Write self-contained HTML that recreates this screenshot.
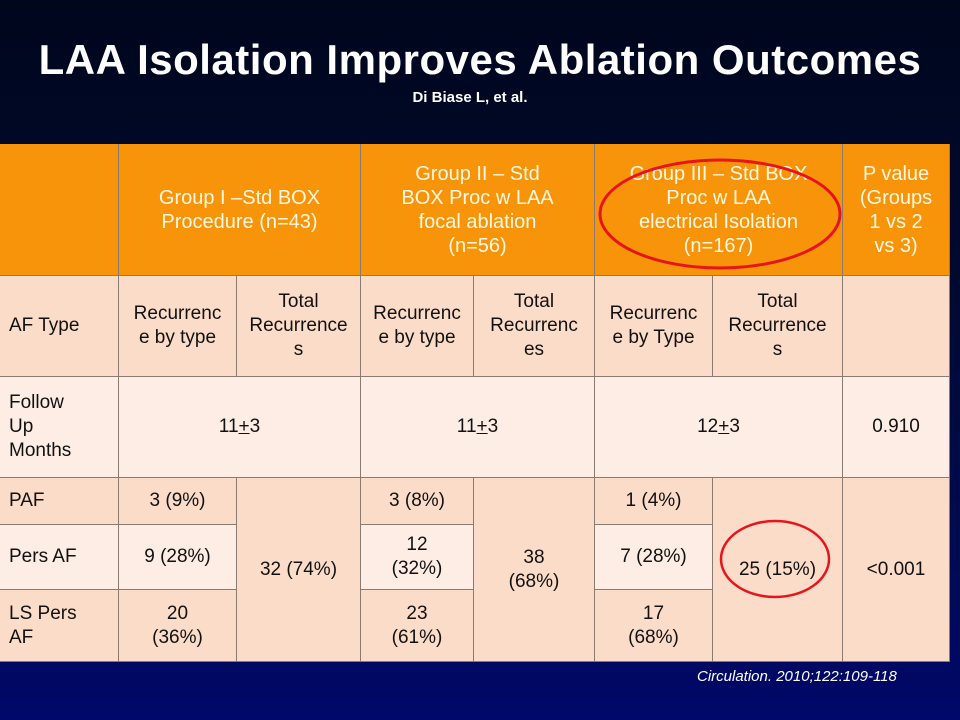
<!DOCTYPE html>
<html><head><meta charset="utf-8"><style>
body{margin:0;width:960px;height:720px;overflow:hidden;background:linear-gradient(#00061c 0%,#000a30 40%,#000a55 80%,#00086a 100%);font-family:"Liberation Sans",sans-serif;position:relative}
.t{position:absolute;left:0;width:960px;text-align:center;color:#fff}
.c{position:absolute;box-sizing:border-box;display:flex;align-items:center;justify-content:center;text-align:center;font-size:19px;color:#111;border-right:1px solid #8a7a70;border-bottom:1px solid #8a7a70;line-height:24px}
.h{background:#f7940a;color:#fff8e0;font-size:20px}
.a{background:#fbdcc8}.b{background:#fdede4}
.l{justify-content:flex-start;text-align:left;padding-left:9px}
</style></head><body>
<div class="t" style="top:36px;font-size:42px;font-weight:bold;letter-spacing:0.5px">LAA Isolation Improves Ablation Outcomes</div>
<div class="t" style="top:89px;font-size:15px;font-weight:bold;left:0;width:940px">Di Biase L, et al.</div>
<div class="c h" style="left:0;top:144px;width:119px;height:132px"></div>
<div class="c h" style="left:119px;top:144px;width:242px;height:132px">Group I –Std BOX<br>Procedure (n=43)</div>
<div class="c h" style="left:361px;top:144px;width:234px;height:132px">Group II – Std<br>BOX Proc w LAA<br>focal ablation<br>(n=56)</div>
<div class="c h" style="left:595px;top:144px;width:248px;height:132px">Group III – Std BOX<br>Proc w LAA<br>electrical Isolation<br>(n=167)</div>
<div class="c h" style="left:843px;top:144px;width:107px;height:132px">P value<br>(Groups<br>1 vs 2<br>vs 3)</div>

<div class="c a l" style="left:0;top:276px;width:119px;height:101px">AF Type</div>
<div class="c a" style="left:119px;top:276px;width:118px;height:101px">Recurrenc<br>e by type</div>
<div class="c a" style="left:237px;top:276px;width:124px;height:101px">Total<br>Recurrence<br>s</div>
<div class="c a" style="left:361px;top:276px;width:113px;height:101px">Recurrenc<br>e by type</div>
<div class="c a" style="left:474px;top:276px;width:121px;height:101px">Total<br>Recurrenc<br>es</div>
<div class="c a" style="left:595px;top:276px;width:118px;height:101px">Recurrenc<br>e by Type</div>
<div class="c a" style="left:713px;top:276px;width:130px;height:101px">Total<br>Recurrence<br>s</div>
<div class="c a" style="left:843px;top:276px;width:107px;height:101px"></div>

<div class="c b l" style="left:0;top:377px;width:119px;height:101px">Follow<br>Up<br>Months</div>
<div class="c b" style="left:119px;top:377px;width:242px;height:101px">11<u>+</u>3</div>
<div class="c b" style="left:361px;top:377px;width:234px;height:101px">11<u>+</u>3</div>
<div class="c b" style="left:595px;top:377px;width:248px;height:101px">12<u>+</u>3</div>
<div class="c b" style="left:843px;top:377px;width:107px;height:101px">0.910</div>

<div class="c a l" style="left:0;top:478px;width:119px;height:47px">PAF</div>
<div class="c a" style="left:119px;top:478px;width:118px;height:47px">3 (9%)</div>
<div class="c a" style="left:237px;top:478px;width:124px;height:184px">32 (74%)</div>
<div class="c a" style="left:361px;top:478px;width:113px;height:47px">3 (8%)</div>
<div class="c a" style="left:474px;top:478px;width:121px;height:184px">38<br>(68%)</div>
<div class="c a" style="left:595px;top:478px;width:118px;height:47px">1 (4%)</div>
<div class="c a" style="left:713px;top:478px;width:130px;height:184px">25 (15%)</div>
<div class="c a" style="left:843px;top:478px;width:107px;height:184px">&lt;0.001</div>

<div class="c b l" style="left:0;top:525px;width:119px;height:65px">Pers AF</div>
<div class="c b" style="left:119px;top:525px;width:118px;height:65px">9 (28%)</div>
<div class="c b" style="left:361px;top:525px;width:113px;height:65px">12<br>(32%)</div>
<div class="c b" style="left:595px;top:525px;width:118px;height:65px">7 (28%)</div>

<div class="c a l" style="left:0;top:590px;width:119px;height:72px">LS Pers<br>AF</div>
<div class="c a" style="left:119px;top:590px;width:118px;height:72px">20<br>(36%)</div>
<div class="c a" style="left:361px;top:590px;width:113px;height:72px">23<br>(61%)</div>
<div class="c a" style="left:595px;top:590px;width:118px;height:72px">17<br>(68%)</div>

<svg style="position:absolute;left:0;top:0" width="960" height="720">
<ellipse cx="720" cy="214" rx="120" ry="54" fill="none" stroke="#e8141c" stroke-width="3"/>
<ellipse cx="775" cy="559" rx="54" ry="38" fill="none" stroke="#e8141c" stroke-width="2.5"/>
</svg>
<div style="position:absolute;left:697px;top:668px;color:#fff;font-style:italic;font-size:15px;white-space:nowrap">Circulation. 2010;122:109-118</div>
</body></html>
